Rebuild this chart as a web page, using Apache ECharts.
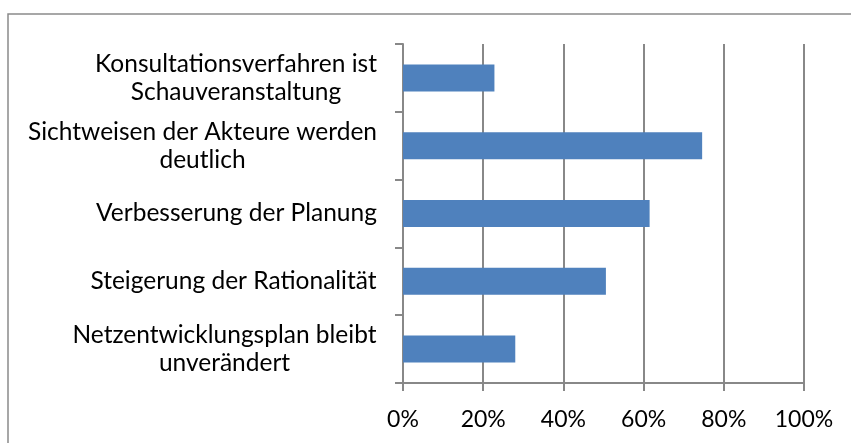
<!DOCTYPE html>
<html>
<head>
<meta charset="utf-8">
<script src="https://cdn.jsdelivr.net/npm/echarts@6/dist/echarts.min.js"></script>
<style>
  html, body { margin: 0; padding: 0; background: #fff; }
  #chart { width: 851px; height: 443px; }
</style>
</head>
<body>
<div id="chart"></div>
<script>
// categories top to bottom
var categories = [
  'Konsultationsverfahren ist\nSchauveranstaltung',
  'Sichtweisen der Akteure werden\ndeutlich',
  'Verbesserung der Planung',
  'Steigerung der Rationalität',
  'Netzentwicklungsplan bleibt\nunverändert'
]
var shares = [0.228, 0.746, 0.615, 0.506, 0.28]

var font = 'Lato'
var catSize = 24.5

// each label block is as wide as its longest line, lines centred inside it
var ctx = document.createElement('canvas').getContext('2d')
ctx.font = catSize + 'px ' + font
var rich = {}
categories.forEach(function (c, i) {
  var w = 0
  c.split('\n').forEach(function (s) {
    w = Math.max(w, ctx.measureText(s).width)
  })
  rich['c' + i] = { width: Math.ceil(w), align: 'center', color: '#000', fontSize: catSize, lineHeight: 28, fontFamily: font }
})

var chart = echarts.init(document.getElementById('chart'))

chart.setOption({
  animation: false,
  backgroundColor: '#fff',
  graphic: [{
    type: 'rect',
    shape: { x: 8, y: 14, width: 900, height: 500 },
    style: { fill: 'none', stroke: '#8a8a8a', lineWidth: 1.5 },
    silent: true
  }],
  grid: { left: 403, right: 47, top: 44, bottom: 60 },
  xAxis: {
    type: 'value',
    min: 0,
    max: 1,
    interval: 0.2,
    axisLine: { show: true, lineStyle: { color: '#888', width: 2 } },
    axisTick: { show: true, length: 8, lineStyle: { color: '#888', width: 2 } },
    splitLine: { show: true, lineStyle: { color: '#888', width: 2 } },
    axisLabel: {
      margin: 25,
      color: '#000',
      fontSize: 23,
      fontFamily: font,
      formatter: function (v) {
        return Math.round(v * 100) + '%'
      }
    }
  },
  yAxis: {
    type: 'category',
    inverse: true,
    data: categories,
    axisLine: { show: true, lineStyle: { color: '#888', width: 2 } },
    axisTick: { show: true, length: 8, alignWithLabel: false, lineStyle: { color: '#888', width: 2 } },
    axisLabel: {
      margin: 26,
      formatter: function (v, i) {
        return v.split('\n').map(function (s) { return '{c' + i + '|' + s + '}' }).join('\n')
      },
      rich: rich
    }
  },
  series: [{
    type: 'bar',
    data: shares,
    barWidth: 27,
    itemStyle: { color: '#4F81BD' }
  }]
})
</script>
</body>
</html>
